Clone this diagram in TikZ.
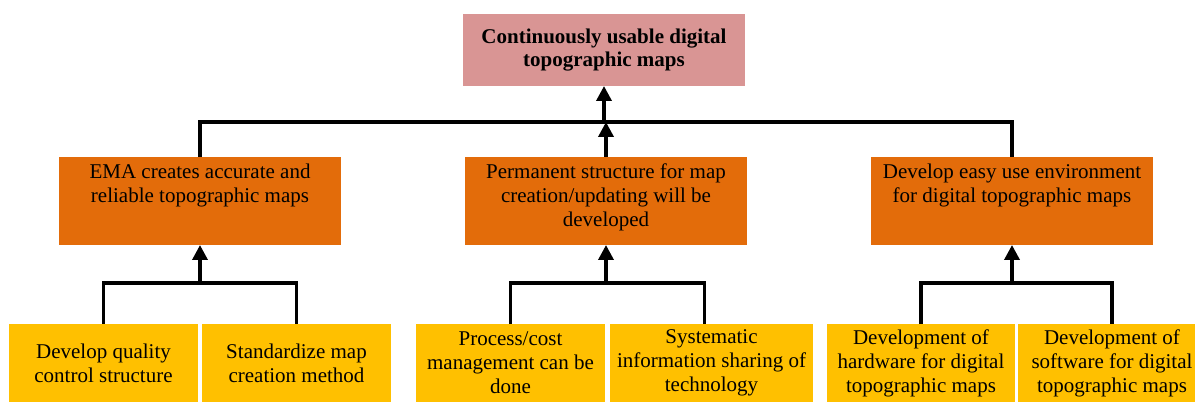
\documentclass[tikz,border=0pt]{standalone}
\usepackage{fontspec}
\setmainfont{Liberation Serif}
\usetikzlibrary{arrows.meta,calc}
\definecolor{pinkc}{HTML}{D99594}
\definecolor{orangec}{HTML}{E36C0A}
\definecolor{yellowc}{HTML}{FFC000}
\newcommand\toptext[3]{\parbox[c][#2][t]{#1}{\centering\vspace*{7pt}#3\par}}
\newcommand\midtext[3]{\parbox[c][#2][c]{#1}{\centering #3\par}}
\tikzset{
  base/.style={inner sep=0pt, outer sep=0pt, anchor=north west, align=center, font=\fontsize{21}{24}\selectfont},
  goalbox/.style={base, fill=pinkc, font=\fontsize{21}{23}\selectfont\bfseries},
  midbox/.style={base, fill=orangec},
  leafbox/.style={base, fill=yellowc},
  link/.style={line width=3.5pt, line join=miter},
  arr/.style={link, -{Triangle[width=15pt,length=15pt]}},
}
\begin{document}
\begin{tikzpicture}[x=1pt,y=-1pt]
\useasboundingbox (0,0) rectangle (1195,403);
% top goal
\node[goalbox] (goal) at (463,14) {\midtext{282pt}{72pt}{Continuously usable digital\\topographic maps}};
% orange
\node[midbox] (a) at (59,157) {\toptext{282pt}{88pt}{EMA creates accurate and\\reliable topographic maps}};
\node[midbox] (b) at (465,157) {\toptext{282pt}{88pt}{Permanent structure for map\\creation/updating will be\\developed}};
\node[midbox] (c) at (871,157) {\toptext{282pt}{88pt}{Develop easy use environment\\for digital topographic maps}};
% yellow
\node[leafbox] (a1) at (9,324) {\midtext{189pt}{78pt}{Develop quality\\control structure}};
\node[leafbox] (a2) at (202,324) {\midtext{189pt}{78pt}{Standardize map\\creation method}};
\node[leafbox] (b1) at (416,324) {\midtext{189pt}{78pt}{Process/cost\\management can be\\done}};
\node[leafbox] (b2) at (610,324) {\midtext{203pt}{78pt}{Systematic\\information sharing of\\technology}};
\node[leafbox] (c1) at (827,324) {\midtext{188pt}{78pt}{Development of\\hardware for digital\\topographic maps}};
\node[leafbox] (c2) at (1018,324) {\midtext{188pt}{78pt}{Development of\\software for digital\\topographic maps}};
% connectors top
\coordinate (hub) at (goal.south |- 0,122);
\draw[link] (a.north) |- (hub) -| (c.north);
\draw[arr] (hub) -- (goal.south);
\draw[arr] (b.north) -- (b.north |- hub);
% branches
\coordinate (aj) at (a.south |- 0,283);
\coordinate (bj) at (b.south |- 0,283);
\coordinate (cj) at (c.south |- 0,283);
\draw[link] (a1.north) |- (aj) -| (a2.north);
\draw[link] (b1.north) |- (bj) -| ([xshift=-7pt]b2.north);
\draw[link] (c1.north) |- (cj) -| (c2.north);
\draw[arr] (aj) -- (a.south);
\draw[arr] (bj) -- (b.south);
\draw[arr] (cj) -- (c.south);
\end{tikzpicture}
\end{document}
